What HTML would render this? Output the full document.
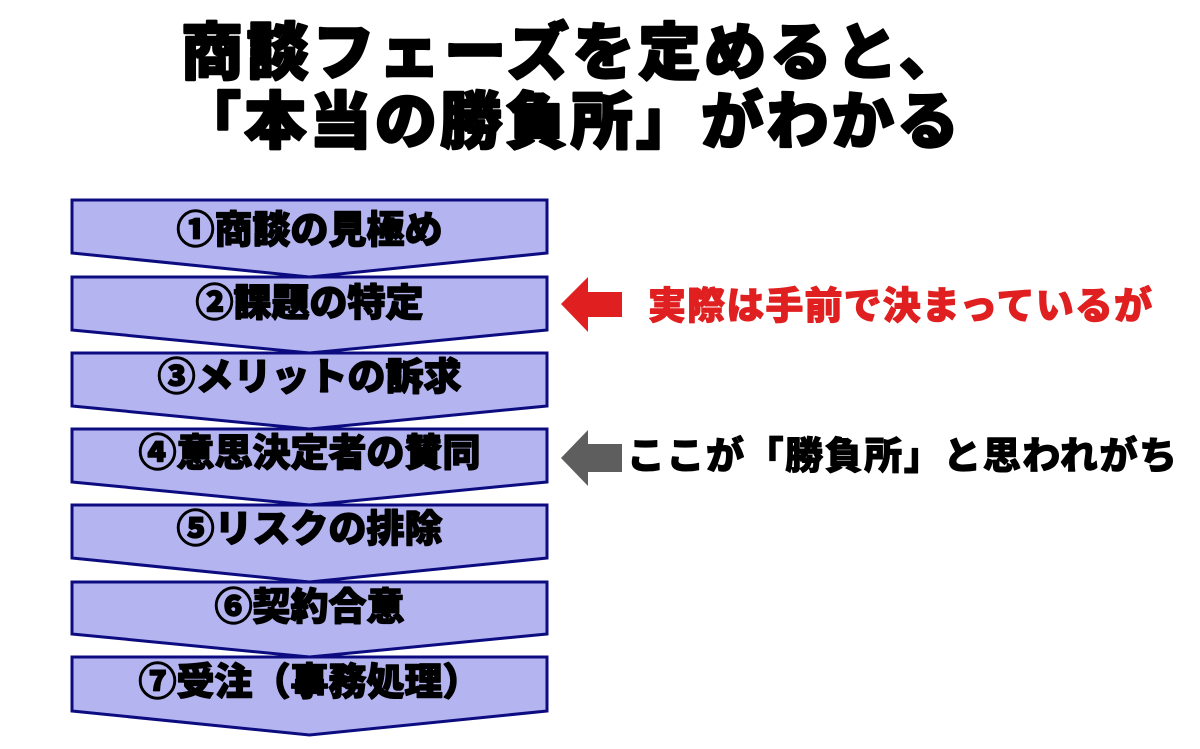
<!DOCTYPE html>
<html>
<head>
<meta charset="utf-8">
<style>
  html, body { margin: 0; padding: 0; background: #ffffff; }
  body { width: 1200px; height: 749px; overflow: hidden; }
  svg { display: block; }
  text { font-family: "Liberation Sans", "Noto Sans CJK JP", "Noto Sans CJK SC", sans-serif; }
</style>
</head>
<body>
<svg width="1200" height="749" viewBox="0 0 1200 749" xmlns="http://www.w3.org/2000/svg">
  <rect x="0" y="0" width="1200" height="749" fill="#ffffff"/>

  <!-- Title -->
  <g font-weight="900" font-size="62" fill="#000" stroke="#000" stroke-width="2.4" stroke-linejoin="round">
    <text x="181" y="74" textLength="780" lengthAdjust="spacing">商談フェーズを定めると、</text>
    <text x="179" y="143" textLength="780" lengthAdjust="spacing">「本当の勝負所」がわかる</text>
  </g>

  <!-- Chevrons -->
  <g fill="#b4b4f0" stroke="#0c0c80" stroke-width="3" stroke-linejoin="miter">
    <polygon points="72,200 547,200 547,253 309.5,277 72,253"/>
    <polygon points="72,277 547,277 547,330 309.5,353 72,330"/>
    <polygon points="72,353 547,353 547,406 309.5,429 72,406"/>
    <polygon points="72,429 547,429 547,482 309.5,505 72,482"/>
    <polygon points="72,505 547,505 547,558 309.5,582 72,558"/>
    <polygon points="72,582 547,582 547,634 309.5,657 72,634"/>
    <polygon points="72,657 547,657 547,711 309.5,735 72,711"/>
  </g>

  <!-- Chevron labels -->
  <g font-weight="900" font-size="38" fill="#000" stroke="#000" stroke-width="1.4" stroke-linejoin="round" text-anchor="middle">
    <text x="309.5" y="243">①商談の見極め</text>
    <text x="309.5" y="316">②課題の特定</text>
    <text x="309.5" y="390">③メリットの訴求</text>
    <text x="309.5" y="466">④意思決定者の賛同</text>
    <text x="309.5" y="542">⑤リスクの排除</text>
    <text x="309.5" y="620">⑥契約合意</text>
    <text x="309.5" y="695">⑦受注（事務処理）</text>
  </g>

  <!-- Arrows -->
  <polygon points="561,304 588,277 588,292 622,292 622,317 588,317 588,332" fill="#e02020"/>
  <polygon points="561,458 588,430 588,444 622,444 622,472 588,472 588,486" fill="#5e5e5e"/>

  <!-- Annotations -->
  <text x="648" y="319" font-size="38" font-weight="900" fill="#e02020" stroke="#e02020" stroke-width="1" stroke-linejoin="round" textLength="504" lengthAdjust="spacing">実際は手前で決まっているが</text>
  <text x="627" y="469" font-size="38" font-weight="900" fill="#000" stroke="#000" stroke-width="1" stroke-linejoin="round" textLength="550" lengthAdjust="spacing">ここが「勝負所」と思われがち</text>
</svg>
</body>
</html>
